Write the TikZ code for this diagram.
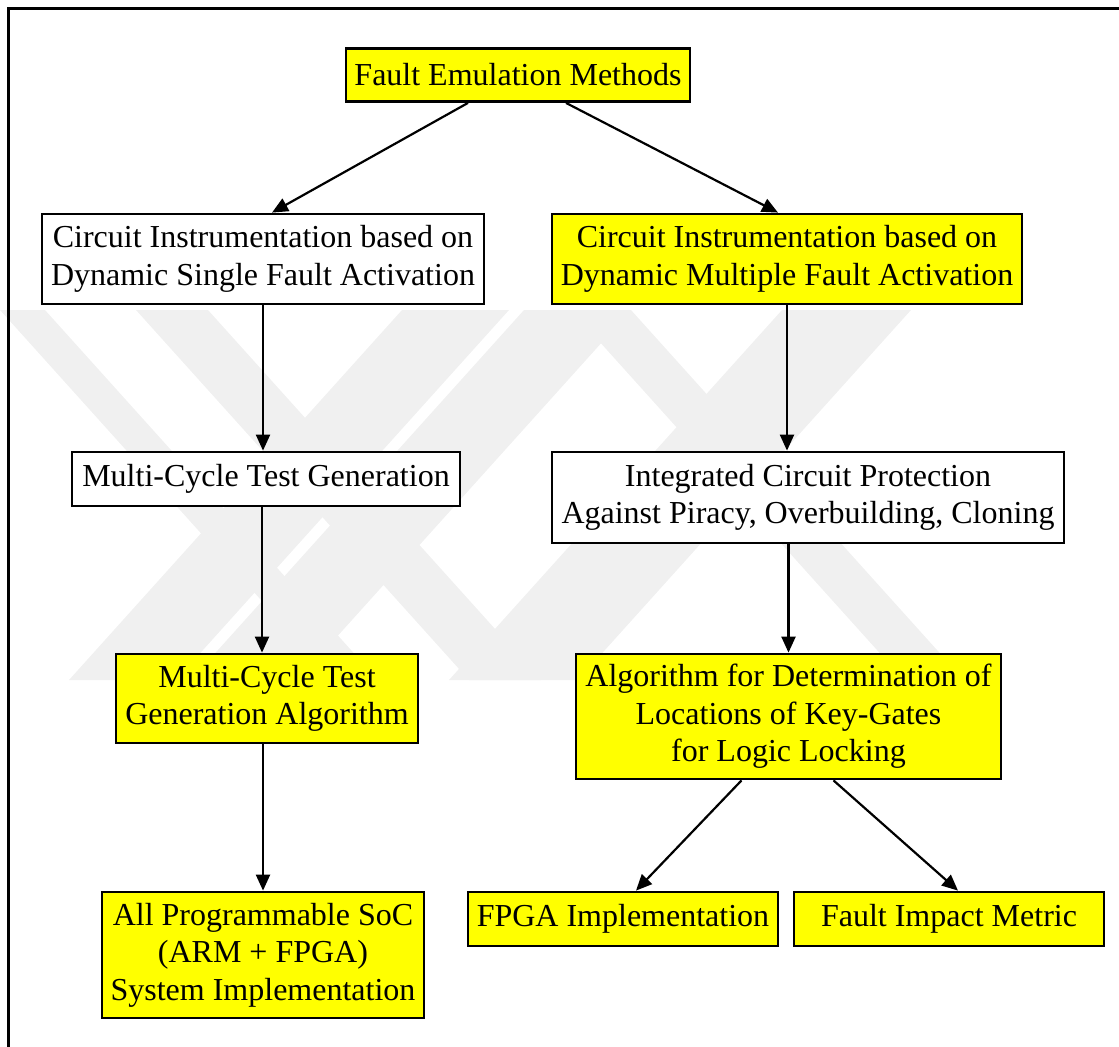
\documentclass[tikz,border=0pt]{standalone}
\usepackage{xcolor,tikz}
\usepackage{fontspec}
\setmainfont{Liberation Serif}
\usetikzlibrary{arrows.meta}
\definecolor{boxyellow}{RGB}{255,255,0}

\begin{document}
\begin{tikzpicture}[x=0.5pt, y=-0.5pt,
		box/.style={draw, line width=1.4pt, fill=white, inner sep=0pt, align=center, font=\fontsize{16}{18.75}\selectfont},
		ybox/.style={box, fill=boxyellow},
		arr/.style={-{Triangle[length=8pt, width=7pt]}, line width=1.1pt}]
	\useasboundingbox (0, 0) rectangle (1119, 1046);

	% faint watermark behind the chart
	\begin{scope}
		\clip (0, 308) rectangle (1119, 682);
		\foreach \a/\b in {0/45, 136/208, 571/631}
			\fill[black!6] (\a, 310) -- (\b, 310) -- (\b+333, 680) -- (\a+333, 680) -- cycle;
		\foreach \a/\b in {402/509, 524/631, 782/911}
			\fill[black!6] (\a, 310) -- (\b, 310) -- (\b-333, 680) -- (\a-333, 680) -- cycle;
	\end{scope}
	\draw[line width=1.5pt] (8, 1070) -- (8, 8) -- (1130, 8);

	\draw (518, 75) 	node[ybox, minimum width=172pt, minimum height=26.5pt] 	(fem) 	{Fault Emulation Methods};
	\draw (263, 259) 	node[box, minimum width=221pt, minimum height=45pt] 	(cisfa) 	{Circuit Instrumentation based on\\Dynamic Single Fault Activation};
	\draw (787, 259) 	node[ybox, minimum width=235pt, minimum height=45pt] 	(cimfa) 	{Circuit Instrumentation based on\\Dynamic Multiple Fault Activation};
	\draw (266, 479) 	node[box, minimum width=194pt, minimum height=27pt] 	(mctg) 	{Multi-Cycle Test Generation};
	\draw (808, 497.5) 	node[box, minimum width=256pt, minimum height=45.5pt] 	(icp) 	{Integrated Circuit Protection\\Against Piracy, Overbuilding, Cloning};
	\draw (267, 698.5) 	node[ybox, minimum width=151pt, minimum height=44.5pt] 	(mctga) 	{Multi-Cycle Test\\Generation Algorithm};
	\draw (788.5, 716.5) 	node[ybox, minimum width=212.5pt, minimum height=62.5pt] 	(algo) 	{Algorithm for Determination of\\Locations of Key-Gates\\for Logic Locking};
	\draw (263, 955) 	node[ybox, minimum width=161pt, minimum height=63pt] 	(soc) 	{All Programmable SoC\\(ARM + FPGA)\\System Implementation};
	\draw (623, 919) 	node[ybox, minimum width=155pt, minimum height=27pt] 	(fpga) 	{FPGA Implementation};
	\draw (949, 919) 	node[ybox, minimum width=155pt, minimum height=27pt] 	(fim) 	{Fault Impact Metric};

	\draw[arr] ([xshift=-25pt]fem.south) -- ([xshift=4.5pt]cisfa.north);
	\draw[arr] ([xshift=24pt]fem.south) -- ([xshift=-4.5pt]cimfa.north);
	\draw[arr] (cisfa.south) -- (cisfa.south |- mctg.north);
	\draw[arr] ([xshift=-2pt]mctg.south) -- ([xshift=-2pt]mctg.south |- mctga.north);
	\draw[arr] (soc.north |- mctga.south) -- (soc.north);
	\draw[arr] (cimfa.south) -- (cimfa.south |- icp.north);
	\draw[arr] (algo.north |- icp.south) -- (algo.north);
	\draw[arr] ([xshift=-23.5pt]algo.south) -- ([xshift=6.5pt]fpga.north);
	\draw[arr] ([xshift=22.5pt]algo.south) -- ([xshift=4.5pt]fim.north);
\end{tikzpicture}
\end{document}
